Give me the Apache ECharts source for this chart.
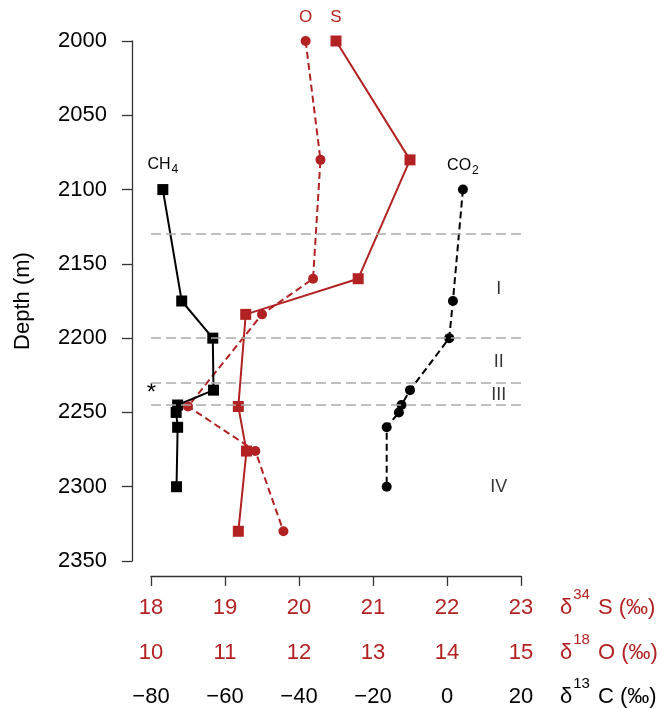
<!DOCTYPE html>
<html>
<head>
<meta charset="utf-8">
<script src="https://cdn.jsdelivr.net/npm/echarts@6/dist/echarts.min.js"></script>
<style>
  html, body { margin: 0; padding: 0; background: #fff; }
  #main { width: 663px; height: 708px; }
</style>
</head>
<body>
<div id="main"></div>
<script>
// depth profiles
var sDepth = [2000, 2080, 2160, 2184, 2246, 2276, 2330]
var d34S = [20.50, 21.50, 20.80, 19.28, 19.18, 19.29, 19.18]
var oDepth = [2000, 2080, 2160, 2184, 2246, 2276, 2330]
var d18O = [12.09, 12.29, 12.19, 11.50, 10.50, 11.41, 11.79]
var cDepth = [2100, 2175, 2200, 2235, 2245, 2250, 2260, 2300]
var ch4 = [-76.8, -71.7, -63.3, -63.1, -72.8, -73.2, -72.8, -73.1]
var co2 = [4.3, 1.6, 0.6, -10.0, -12.3, -13.0, -16.3, -16.3]
var boundaries = [2130, 2200, 2230, 2245]
var zoneNames = ['I', 'II', 'III', 'IV']
var zoneDepth = [2167, 2216, 2238, 2300]

var RED = '#b22222'
var FONT = 'Liberation Sans, Arial, sans-serif'

function pairs (xs, ys) {
  var out = []
  for (var i = 0; i < xs.length; i++) out.push([xs[i], ys[i]])
  return out
}

// superscript: padding at the bottom lifts the small digits above the cap line
var supRich = {
  m: { fontSize: 22, fontFamily: FONT },
  sup: { fontSize: 15, padding: [0, 8, 26, 1], fontFamily: FONT }
}
var subRich = {
  m: { fontSize: 16, fontFamily: FONT },
  sub: { fontSize: 12, padding: [10, 0, 0, 1], fontFamily: FONT }
}

var sData = pairs(d34S, sDepth)
sData[0] = { value: sData[0], label: { show: true, formatter: 'S', position: 'top', distance: 10, color: RED, fontSize: 17, fontFamily: FONT } }
var oData = pairs(d18O, oDepth)
oData[0] = { value: oData[0], label: { show: true, formatter: 'O', position: 'top', distance: 10, color: RED, fontSize: 17, fontFamily: FONT } }
var ch4Data = pairs(ch4, cDepth)
ch4Data[0] = { value: ch4Data[0], label: { show: true, formatter: '{m|CH}{sub|4}', rich: subRich, position: 'top', distance: 8, color: '#000' } }
ch4Data[4] = { value: ch4Data[4], label: { show: true, formatter: '*', position: 'left', distance: 14, offset: [-2, -12], color: '#000', fontSize: 24, fontFamily: FONT } }
var co2Data = pairs(co2, cDepth)
co2Data[0] = { value: co2Data[0], label: { show: true, formatter: '{m|CO}{sub|2}', rich: subRich, position: 'top', distance: 8, color: '#000' } }

var zoneData = []
for (var i = 0; i < zoneNames.length; i++) zoneData.push({ value: [22.7, zoneDepth[i]], name: zoneNames[i] })

function labelAxis (min, max, interval, offset, color, name) {
  return {
    type: 'value', position: 'bottom', min: min, max: max, interval: interval, offset: offset,
    axisLine: { show: false, onZero: false }, axisTick: { show: false }, splitLine: { show: false },
    axisLabel: {
      color: color, fontSize: 22, fontFamily: FONT, margin: 0, verticalAlign: 'middle',
      formatter: function (v) { return v < 0 ? '\u2212' + Math.abs(v) : String(v) }
    },
    name: name, nameLocation: 'end', nameGap: 39,
    nameTextStyle: { color: color, align: 'left', verticalAlign: 'middle', rich: supRich }
  }
}

var chart = echarts.init(document.getElementById('main'))
chart.setOption({
  animation: false,
  textStyle: { fontFamily: FONT },
  grid: { left: 151, right: 142, top: 41, bottom: 147 },
  xAxis: [
    {
      type: 'value', position: 'bottom', min: 18, max: 23, interval: 1, offset: 15,
      axisLine: { show: true, onZero: false, lineStyle: { color: '#333', width: 1.3 } },
      axisTick: { show: true, length: 10, lineStyle: { color: '#333', width: 1.3 } },
      axisLabel: { show: false }, splitLine: { show: false }
    },
    labelAxis(18, 23, 1, 47, RED, '{m|δ}{sup|34}{m|S (‰)}'),
    labelAxis(10, 15, 1, 92, RED, '{m|δ}{sup|18}{m|O (‰)}'),
    labelAxis(-80, 20, 20, 136, '#000', '{m|δ}{sup|13}{m|C (‰)}')
  ],
  yAxis: {
    type: 'value', inverse: true, min: 2000, max: 2350, interval: 50, offset: 19,
    axisLine: { show: true, onZero: false, lineStyle: { color: '#333', width: 1.3 } },
    axisTick: { show: true, length: 10, lineStyle: { color: '#333', width: 1.3 } },
    axisLabel: { color: '#000', fontSize: 22, fontFamily: FONT, margin: 25, formatter: function (v) { return String(v) } },
    splitLine: { show: false },
    name: 'Depth (m)', nameLocation: 'middle', nameGap: 98, nameRotate: 90,
    nameTextStyle: { color: '#000', fontSize: 22, fontFamily: FONT }
  },
  series: [
    {
      name: 'zones', type: 'scatter', xAxisIndex: 1, data: zoneData, symbolSize: 0, silent: true,
      label: { show: true, position: 'inside', formatter: '{b}', color: '#000', fontSize: 18, fontFamily: FONT },
      markLine: {
        silent: true, symbol: 'none', label: { show: false },
        lineStyle: { color: '#aaa', type: [10, 5], width: 1.5 },
        data: boundaries.map(function (d) { return { yAxis: d } })
      }
    },
    {
      name: 'd34S', type: 'line', xAxisIndex: 0, data: sData,
      symbol: 'rect', symbolSize: 11, color: RED,
      itemStyle: { color: RED }, lineStyle: { color: RED, width: 2 }
    },
    {
      name: 'd18O', type: 'line', xAxisIndex: 2, data: oData,
      symbol: 'circle', symbolSize: 10, color: RED,
      itemStyle: { color: RED }, lineStyle: { color: RED, width: 2, type: [7, 4] }
    },
    {
      name: 'CO2', type: 'line', xAxisIndex: 3, data: co2Data,
      symbol: 'circle', symbolSize: 10, color: '#000',
      itemStyle: { color: '#000' }, lineStyle: { color: '#000', width: 2, type: [7, 4] }
    },
    {
      name: 'CH4', type: 'line', xAxisIndex: 3, data: ch4Data,
      symbol: 'rect', symbolSize: 11, color: '#000',
      itemStyle: { color: '#000' }, lineStyle: { color: '#000', width: 2 }
    }
  ]
})
</script>
</body>
</html>
